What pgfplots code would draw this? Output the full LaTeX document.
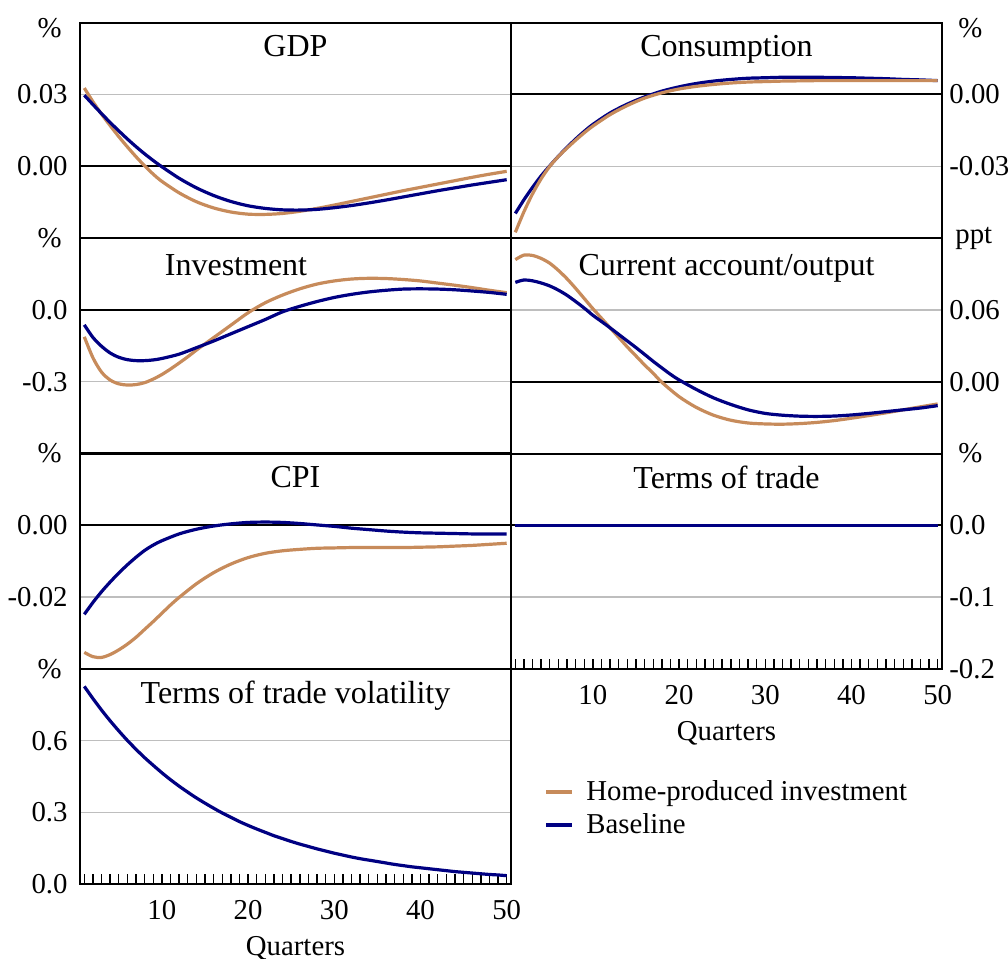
\documentclass[border=0pt]{standalone}
\usepackage{fontspec}
\setmainfont{Liberation Serif}
\usepackage{pgfplots}
\pgfplotsset{compat=1.18}
\definecolor{hpi}{RGB}{199,139,91}
\definecolor{base}{RGB}{0,0,130}
\definecolor{gridc}{RGB}{190,190,190}
\newcommand\tf{\fontsize{14.4pt}{17pt}\selectfont}
\newcommand\ttl{\fontsize{16pt}{19pt}\selectfont}
\pgfplotsset{
 panel/.style={
   scale only axis, width=215.5pt, height=107.7pt,
   xmin=0.5, xmax=50.5, anchor=north west,
   xtick=\empty, scaled y ticks=false, scaled x ticks=false,
   axis line style={line width=1pt},
   ymajorgrids, grid style={gridc, line width=0.7pt},
   ytick style={draw=none},
   font=\tf,
   yticklabel style={inner sep=0pt},
   /pgf/number format/assume math mode=true,
   every axis plot/.append style={line width=1.6pt, smooth},
   clip mode=individual,
 },
 leftpanel/.style={panel, yticklabel shift=6pt},
 rightpanel/.style={panel, yticklabel pos=right, yticklabel shift=3.5pt},
 bottompanel/.style={xtick={10,20,30,40,50}, minor xtick={1,...,50}, xtick pos=left,
   tick align=inside, major tick length=5pt, minor tick length=5pt,
   xtick style={black, line width=0.7pt},
   minor x tick style={black, line width=0.7pt},
   xticklabel style={inner sep=0pt}, xticklabel shift=8pt,
   xlabel={Quarters}, xlabel style={inner sep=0pt, yshift=-8pt}},
}
\begin{document}
\begin{tikzpicture}
\path[use as bounding box] (0,0) rectangle (504pt,-479.5pt);

% GDP
\begin{axis}[leftpanel, at={(40pt,-11.35pt)}, ymin=-0.03, ymax=0.06,
  ytick={0,0.03}, yticklabels={0.00,0.03}]
\draw[black, line width=1pt] (axis cs:0.5,0) -- (axis cs:50.5,0);
\addplot[hpi] coordinates {(1,0.0327)(2,0.0270)(3,0.0218)(4,0.0170)(5,0.0124)(6,0.0081)(7,0.0040)(8,0.0002)(9,-0.0033)(10,-0.0063)(12,-0.0111)(14,-0.0148)(16,-0.0174)(18,-0.0191)(20,-0.0200)(22,-0.0201)(24,-0.0197)(26,-0.0188)(28,-0.0176)(30,-0.0162)(32,-0.0147)(34,-0.0132)(36,-0.0117)(38,-0.0102)(40,-0.0088)(42,-0.0074)(44,-0.0060)(46,-0.0046)(48,-0.0033)(50,-0.0021)};
\addplot[base] coordinates {(1,0.0297)(2,0.0258)(3,0.0220)(4,0.0183)(5,0.0148)(6,0.0114)(7,0.0082)(8,0.0052)(9,0.0024)(10,-0.0002)(12,-0.0050)(14,-0.0090)(16,-0.0122)(18,-0.0147)(20,-0.0165)(22,-0.0176)(24,-0.0182)(26,-0.0183)(28,-0.0180)(30,-0.0173)(32,-0.0164)(34,-0.0153)(36,-0.0141)(38,-0.0128)(40,-0.0115)(42,-0.0102)(44,-0.0090)(46,-0.0078)(48,-0.0067)(50,-0.0056)};
\node[anchor=north, inner sep=0pt, font=\ttl] at (rel axis cs:0.5,1) [yshift=-6pt] {GDP};
\node[anchor=east, inner sep=0pt] at (rel axis cs:0,1) [xshift=-9pt, yshift=-2.5pt] {\%};
\end{axis}

% Consumption
\begin{axis}[rightpanel, at={(255.5pt,-11.35pt)}, ymin=-0.06, ymax=0.03,
  ytick={-0.03,0}, yticklabels={-0.03,0.00}]
\draw[black, line width=1pt] (axis cs:0.5,0) -- (axis cs:50.5,0);
\addplot[base] coordinates {(1,-0.0497)(2,-0.0440)(3,-0.0388)(4,-0.0340)(5,-0.0298)(6,-0.0258)(7,-0.0221)(8,-0.0186)(9,-0.0154)(10,-0.0125)(12,-0.0077)(14,-0.0040)(16,-0.0010)(18,0.0014)(20,0.0032)(22,0.0046)(24,0.0056)(26,0.0063)(28,0.0068)(30,0.0070)(32,0.0072)(34,0.0072)(36,0.0072)(38,0.0071)(40,0.0070)(42,0.0068)(44,0.0066)(46,0.0063)(48,0.0061)(50,0.0058)};
\addplot[hpi] coordinates {(1,-0.0576)(2,-0.0490)(3,-0.0415)(4,-0.0352)(5,-0.0300)(6,-0.0259)(7,-0.0224)(8,-0.0191)(9,-0.0160)(10,-0.0132)(12,-0.0084)(14,-0.0046)(16,-0.0015)(18,0.0007)(20,0.0023)(22,0.0034)(24,0.0042)(26,0.0048)(28,0.0052)(30,0.0054)(32,0.0056)(34,0.0057)(36,0.0058)(38,0.0058)(40,0.0058)(42,0.0058)(44,0.0058)(46,0.0058)(48,0.0058)(50,0.0058)};
\node[anchor=north, inner sep=0pt, font=\ttl] at (rel axis cs:0.5,1) [yshift=-6pt] {Consumption};
\node[anchor=west, inner sep=0pt] at (rel axis cs:1,1) [xshift=8pt, yshift=-2.5pt] {\%};
\end{axis}

% Investment
\begin{axis}[leftpanel, at={(40pt,-119.05pt)}, ymin=-0.6, ymax=0.3,
  ytick={-0.3,0}, yticklabels={-0.3,0.0}]
\draw[black, line width=1pt] (axis cs:0.5,0) -- (axis cs:50.5,0);
\addplot[hpi] coordinates {(1,-0.1125)(2,-0.200)(3,-0.260)(4,-0.293)(5,-0.309)(6,-0.314)(7,-0.312)(8,-0.304)(9,-0.289)(10,-0.270)(11,-0.247)(12,-0.222)(13,-0.196)(14,-0.168)(15,-0.142)(16,-0.116)(18,-0.064)(20,-0.012)(22,0.030)(24,0.062)(26,0.088)(28,0.108)(30,0.121)(32,0.129)(34,0.132)(36,0.131)(38,0.127)(40,0.121)(42,0.112)(44,0.103)(46,0.093)(48,0.082)(50,0.072)};
\addplot[base] coordinates {(1,-0.0625)(2,-0.115)(3,-0.152)(4,-0.180)(5,-0.198)(6,-0.208)(7,-0.212)(8,-0.212)(9,-0.209)(10,-0.203)(12,-0.185)(14,-0.158)(16,-0.130)(18,-0.100)(20,-0.070)(22,-0.040)(24,-0.008)(26,0.015)(28,0.035)(30,0.052)(32,0.065)(34,0.075)(36,0.082)(38,0.087)(40,0.088)(42,0.087)(44,0.084)(46,0.079)(48,0.073)(50,0.065)};
\node[anchor=north, inner sep=0pt, font=\ttl] at (rel axis cs:0.362,1) [yshift=-8pt] {Investment};
\node[anchor=east, inner sep=0pt] at (rel axis cs:0,1) [xshift=-9pt] {\%};
\end{axis}

% Current account/output
\begin{axis}[rightpanel, at={(255.5pt,-119.05pt)}, ymin=-0.06, ymax=0.12,
  ytick={0,0.06}, yticklabels={0.00,0.06}]
\draw[black, line width=1pt] (axis cs:0.5,0) -- (axis cs:50.5,0);
\addplot[hpi] coordinates {(1,0.102)(2,0.1058)(3,0.1055)(4,0.103)(5,0.099)(6,0.093)(7,0.086)(8,0.078)(9,0.0695)(10,0.061)(11,0.053)(12,0.045)(13,0.037)(14,0.029)(15,0.0215)(16,0.014)(17,0.007)(18,-0.0005)(20,-0.0125)(22,-0.0215)(24,-0.028)(26,-0.0322)(28,-0.0345)(30,-0.0353)(32,-0.0355)(34,-0.0350)(36,-0.0340)(38,-0.0325)(40,-0.0305)(42,-0.0283)(44,-0.0260)(46,-0.0235)(48,-0.0210)(50,-0.0186)};
\addplot[base] coordinates {(1,0.083)(2,0.085)(3,0.0843)(4,0.0825)(5,0.080)(6,0.0765)(7,0.0722)(8,0.067)(9,0.0615)(10,0.0555)(11,0.0503)(12,0.045)(13,0.0395)(14,0.034)(15,0.0285)(16,0.0228)(17,0.017)(18,0.0115)(19,0.0062)(20,0.0015)(22,-0.0065)(24,-0.0135)(26,-0.019)(28,-0.0235)(30,-0.0265)(32,-0.028)(34,-0.0288)(36,-0.029)(38,-0.0287)(40,-0.0278)(42,-0.0265)(44,-0.025)(46,-0.0235)(48,-0.022)(50,-0.020)};
\node[anchor=north, inner sep=0pt, font=\ttl] at (rel axis cs:0.5,1) [yshift=-8pt] {Current account/output};
\node[anchor=west, inner sep=0pt] at (rel axis cs:1,1) [xshift=6.5pt] {ppt};
\end{axis}

% CPI
\begin{axis}[leftpanel, at={(40pt,-226.75pt)}, ymin=-0.04, ymax=0.02,
  ytick={-0.02,0}, yticklabels={-0.02,0.00}]
\draw[black, line width=1pt] (axis cs:0.5,0) -- (axis cs:50.5,0);
\addplot[hpi] coordinates {(1,-0.0354)(2,-0.0366)(3,-0.0368)(4,-0.0360)(5,-0.0347)(6,-0.0331)(7,-0.0312)(8,-0.0290)(9,-0.0268)(10,-0.0245)(11,-0.0222)(12,-0.0201)(14,-0.0163)(16,-0.0132)(18,-0.0108)(20,-0.0090)(22,-0.0078)(24,-0.0071)(26,-0.0067)(28,-0.0064)(30,-0.0063)(32,-0.0062)(34,-0.0062)(36,-0.0062)(38,-0.0062)(40,-0.0061)(42,-0.0060)(44,-0.0058)(46,-0.0056)(48,-0.0053)(50,-0.0050)};
\addplot[base] coordinates {(1,-0.0248)(2,-0.0215)(3,-0.0185)(4,-0.0158)(5,-0.0133)(6,-0.0110)(7,-0.0089)(8,-0.0070)(9,-0.0055)(10,-0.0043)(12,-0.0024)(14,-0.0011)(16,-0.0002)(18,0.0004)(20,0.0008)(22,0.0009)(24,0.0008)(26,0.0005)(28,0.0001)(30,-0.0003)(32,-0.0008)(34,-0.0012)(36,-0.0016)(38,-0.0019)(40,-0.0021)(42,-0.0022)(44,-0.0023)(46,-0.0024)(48,-0.0024)(50,-0.0024)};
\node[anchor=north, inner sep=0pt, font=\ttl] at (rel axis cs:0.5,1) [yshift=-6pt] {CPI};
\node[anchor=east, inner sep=0pt] at (rel axis cs:0,1) [xshift=-9pt] {\%};
\end{axis}

% Terms of trade
\begin{axis}[rightpanel, bottompanel, at={(255.5pt,-226.75pt)}, ymin=-0.2, ymax=0.1,
  ytick={-0.2,-0.1,0}, yticklabels={-0.2,-0.1,0.0},
  legend style={at={(0.0766,-0.50)}, anchor=north west, draw=none, fill=none,
    inner sep=0pt, font=\tf, row sep=1pt,
    nodes={inner xsep=6pt}},
  legend cell align=left,
  legend image code/.code={\draw[#1, line width=2pt] (0pt,0pt) -- (13pt,0pt);}]
\draw[black, line width=1pt] (axis cs:0.5,0) -- (axis cs:50.5,0);
\addplot[hpi] coordinates {(1,0)(10,0)(20,0)(30,0)(40,0)(50,0)};
\addlegendentry{Home-produced investment}
\addplot[base] coordinates {(1,0)(10,0)(20,0)(30,0)(40,0)(50,0)};
\addlegendentry{Baseline}
\node[anchor=north, inner sep=0pt, font=\ttl] at (rel axis cs:0.5,1) [yshift=-6pt] {Terms of trade};
\node[anchor=west, inner sep=0pt] at (rel axis cs:1,1) [xshift=8pt] {\%};
\end{axis}

% Terms of trade volatility
\begin{axis}[leftpanel, bottompanel, at={(40pt,-334.45pt)}, ymin=0, ymax=0.9,
  ytick={0,0.3,0.6}, yticklabels={0.0,0.3,0.6}]
\addplot[base] coordinates {(1,0.827)(2,0.776)(3,0.728)(4,0.683)(5,0.641)(6,0.601)(7,0.564)(8,0.529)(9,0.497)(10,0.466)(11,0.437)(12,0.410)(13,0.385)(14,0.361)(15,0.339)(16,0.318)(17,0.298)(18,0.280)(19,0.262)(20,0.246)(21,0.231)(22,0.217)(23,0.203)(24,0.191)(25,0.179)(26,0.168)(27,0.158)(28,0.148)(29,0.139)(30,0.130)(31,0.122)(32,0.114)(33,0.107)(34,0.101)(35,0.095)(36,0.089)(37,0.083)(38,0.078)(39,0.073)(40,0.069)(41,0.065)(42,0.061)(43,0.057)(44,0.053)(45,0.050)(46,0.047)(47,0.044)(48,0.041)(49,0.039)(50,0.036)};
\node[anchor=north, inner sep=0pt, font=\ttl] at (rel axis cs:0.5,1) [yshift=-6pt] {Terms of trade volatility};
\node[anchor=east, inner sep=0pt] at (rel axis cs:0,1) [xshift=-9pt] {\%};
\end{axis}
\end{tikzpicture}
\end{document}
